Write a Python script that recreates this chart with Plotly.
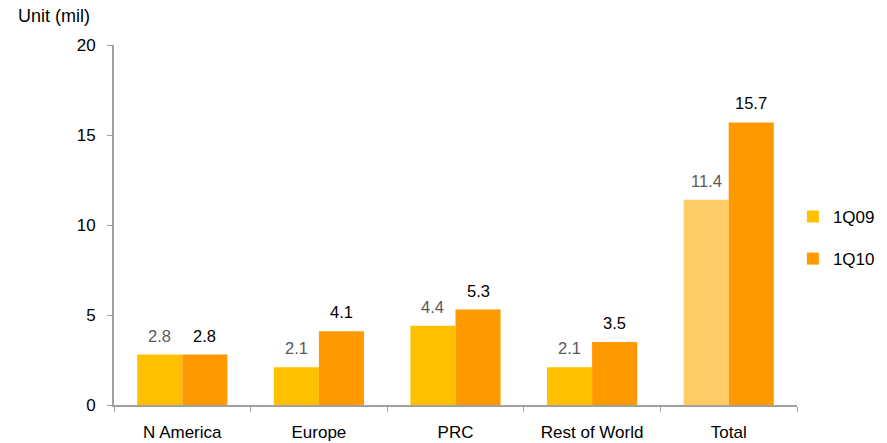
import plotly.graph_objects as go

categories = ["N America", "Europe", "PRC", "Rest of World", "Total"]
q109 = [2.8, 2.1, 4.4, 2.1, 11.4]
q110 = [2.8, 4.1, 5.3, 3.5, 15.7]
q109_colors = ["#FFC000", "#FFC000", "#FFC000", "#FFC000", "#FFCC66"]
y_ticks = [0, 5, 10, 15, 20]

FONT = "Liberation Sans, Arial, sans-serif"
W, H = 887, 443
ML, MR, MT, MB = 114, 90, 45, 38
BARGAP = 0.34
bar_px = (W - ML - MR) / len(categories) * (1 - BARGAP) / 2

fig = go.Figure()
fig.add_trace(go.Bar(
    name="1Q09", x=categories, y=q109, legendgroup="a",
    marker=dict(color=q109_colors, line=dict(width=0)),
))
fig.add_trace(go.Bar(
    name="1Q10", x=categories, y=q110, legendgroup="b",
    marker=dict(color="#FF9900", line=dict(width=0)),
))

annotations = [dict(text="Unit (mil)", xref="paper", yref="paper",
                    x=-0.143, y=1.0, xanchor="left", yanchor="bottom",
                    yshift=17, showarrow=False, font=dict(size=18))]
for series, color, sign in ((q109, "#595959", -1), (q110, "#000000", 1)):
    for cat, v in zip(categories, series):
        annotations.append(dict(
            x=cat, y=v, xref="x", yref="y", text=f"{v:.1f}", showarrow=False,
            xanchor="center", yanchor="bottom", xshift=sign * bar_px / 2,
            yshift=8, font=dict(family=FONT, size=16.5, color=color)))

fig.update_layout(
    width=W, height=H,
    margin=dict(l=ML, r=MR, t=MT, b=MB, autoexpand=False),
    plot_bgcolor="white", paper_bgcolor="white",
    barmode="group", bargap=BARGAP, bargroupgap=0,
    font=dict(family=FONT, size=17, color="#000000"),
    legend=dict(x=0.994, y=0.464, xanchor="left", yanchor="middle",
                font=dict(size=17), tracegroupgap=17, traceorder="grouped",
                itemwidth=30),
    annotations=annotations,
)
fig.update_xaxes(
    showline=True, linecolor="#A0A0A0", linewidth=2, automargin=False,
    ticks="outside", tickson="boundaries", ticklen=5, tickcolor="#A0A0A0",
    tickwidth=1, ticklabelstandoff=11,
    tickfont=dict(size=17), showgrid=False,
)
fig.update_yaxes(
    range=[0, 20], tickvals=y_ticks, showline=True, linecolor="#A0A0A0",
    linewidth=2, ticks="outside", ticklen=5, tickcolor="#A0A0A0", tickwidth=1,
    automargin=False, ticklabelstandoff=8, tickfont=dict(size=17),
    showgrid=False, zeroline=False,
)

fig.write_html("out.html")
